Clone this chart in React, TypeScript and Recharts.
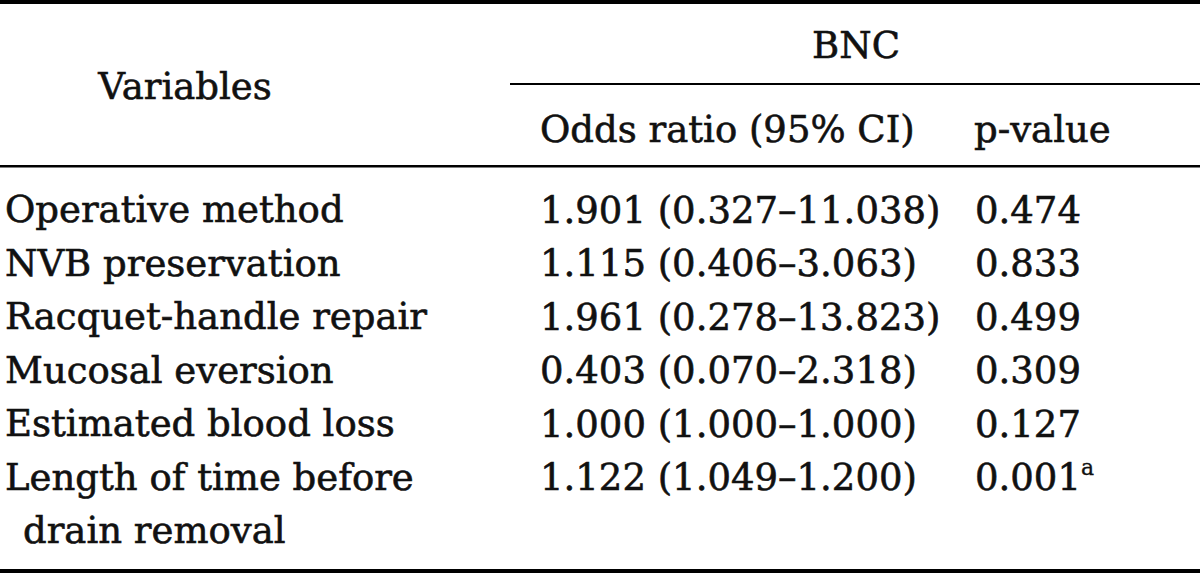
import React from 'react';
import { ComposedChart, Bar, XAxis, YAxis, LabelList, Customized } from 'recharts';

const variables = [
  'Operative method',
  'NVB preservation',
  'Racquet-handle repair',
  'Mucosal eversion',
  'Estimated blood loss',
  'Length of time before\ndrain removal',
];
const oddsRatio = ['1.901', '1.115', '1.961', '0.403', '1.000', '1.122'];
const ciLow = ['0.327', '0.406', '0.278', '0.070', '1.000', '1.049'];
const ciHigh = ['11.038', '3.063', '13.823', '2.318', '1.000', '1.200'];
const pValues = ['0.474', '0.833', '0.499', '0.309', '0.127', '0.001'];
const pNotes = ['', '', '', '', '', 'a'];

const groupLabel = 'BNC';
const columnHeaders = ['Variables', 'Odds ratio (95% CI)', 'p-value'];

const FONT = '"DejaVu Serif", serif';
const SIZE = 37;
const INK = '#111';
const ROW_H = 53.5;
// the source face is heavier than DejaVu, thicken a bit
const WEIGHT = { stroke: INK, strokeWidth: 0.6 };

const rows = variables.map((v, i) => ({
  variable: v,
  odds: `${oddsRatio[i]} (${ciLow[i]}–${ciHigh[i]})`,
  p: pValues[i],
}));

const VarTick = (props: any) => {
  const { y, payload } = props;
  const lines = String(payload.value).split('\n');
  return (
    <text fontFamily={FONT} fontSize={SIZE} fill={INK} {...WEIGHT}>
      {lines.map((l, i) => (
        <tspan key={i} x={i === 0 ? 5 : 23} y={y + 13.5 + i * ROW_H}>
          {l}
        </tspan>
      ))}
    </text>
  );
};

const cellLabel = (withNote: boolean) => (props: any) => {
  const { x, y, width, height, value, index } = props;
  const note = withNote ? pNotes[index] : '';
  return (
    <text x={x + width} y={y + height / 2 + 13.5} fontFamily={FONT} fontSize={SIZE} fill={INK} {...WEIGHT}>
      {value}
      {note ? (
        <tspan fontSize={22} dy={-15} strokeWidth={0.3}>
          {note}
        </tspan>
      ) : null}
    </text>
  );
};

const Header = () => (
  <g fontFamily={FONT} fontSize={SIZE} fill={INK}>
    <rect x={0} y={0} width={1200} height={4} fill="#000" />
    <text x={856} y={58} textAnchor="middle" {...WEIGHT}>{groupLabel}</text>
    <rect x={510} y={83} width={690} height={2} fill="#000" />
    <text x={185} y={99} textAnchor="middle" {...WEIGHT}>{columnHeaders[0]}</text>
    <text x={540} y={142} {...WEIGHT}>{columnHeaders[1]}</text>
    <text x={974} y={142} {...WEIGHT}>{columnHeaders[2]}</text>
    <rect x={0} y={165} width={1200} height={2.5} fill="#000" />
    <rect x={0} y={569} width={1200} height={4} fill="#000" />
  </g>
);

export default function App() {
  return (
    <div style={{ width: 1200, height: 573, background: '#fff' }}>
      <style>{'body{margin:0}'}</style>
      <ComposedChart
        width={1200}
        height={573}
        data={rows}
        layout="vertical"
        margin={{ top: 182, right: 225, bottom: 70, left: 0 }}
      >
        <XAxis type="number" domain={[0, 2]} hide />
        <YAxis
          type="category"
          dataKey="variable"
          width={105}
          axisLine={false}
          tickLine={false}
          interval={0}
          tick={<VarTick />}
        />
        <Bar dataKey={() => 1} stackId="cols" fill="none" barSize={40} isAnimationActive={false}>
          <LabelList dataKey="odds" content={cellLabel(false)} />
        </Bar>
        <Bar dataKey={() => 1} stackId="cols" fill="none" barSize={40} isAnimationActive={false}>
          <LabelList dataKey="p" content={cellLabel(true)} />
        </Bar>
        <Customized component={<Header />} />
      </ComposedChart>
    </div>
  );
}
